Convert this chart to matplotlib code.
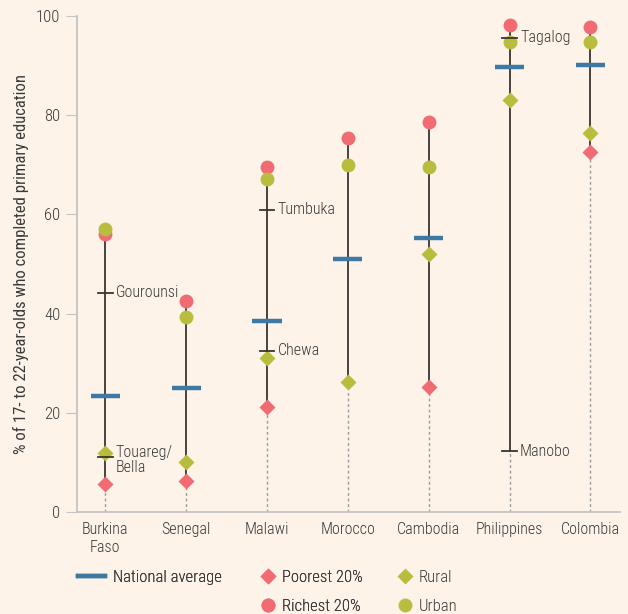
import numpy as np
import matplotlib
matplotlib.use("Agg")
import matplotlib.pyplot as plt
from matplotlib.lines import Line2D

plt.rcParams["font.family"] = ["Roboto Condensed", "Roboto", "DejaVu Sans"]
plt.rcParams["font.weight"] = "light"

# --- data ---
countries = ["Burkina\nFaso", "Senegal", "Malawi", "Morocco", "Cambodia", "Philippines", "Colombia"]
national = [23.4, 25.0, 38.5, 51.0, 55.2, 89.7, 90.1]
poorest = [5.6, 6.2, 21.2, np.nan, 25.2, np.nan, 72.6]
richest = [56.0, 42.5, 69.6, 75.4, 78.6, 98.2, 97.8]
rural = [11.9, 10.1, 31.0, 26.2, 52.0, 83.1, 76.4]
urban = [57.0, 39.3, 67.1, 70.0, 69.6, 94.8, 94.8]

# ethnic groups: (country index, value, label)
groups_idx = [0, 0, 2, 2, 5, 5]
groups_val = [44.2, 11.1, 60.9, 32.5, 95.6, 12.3]
groups_lab = ["Gourounsi", "Touareg/\nBella", "Tumbuka", "Chewa", "Tagalog", "Manobo"]

bg = "#fdf3e9"
blue = "#3d7aa3"
red = "#f06b72"
green = "#b8bd3e"
txt = "#3a3a3a"

fig = plt.figure(figsize=(6.28, 6.14), dpi=100, facecolor=bg)
ax = fig.add_axes([0.1226, 0.166, 0.864, 0.808], facecolor=bg)

x = np.arange(1, len(countries) + 1)

for i in range(len(countries)):
    vals = [national[i], poorest[i], richest[i], rural[i], urban[i]]
    vals += [v for j, v in zip(groups_idx, groups_val) if j == i]
    vals = [v for v in vals if not np.isnan(v)]
    lo, hi = min(vals), max(vals)
    ax.plot([x[i], x[i]], [0, lo], color="#9a9a9a", lw=1, ls=(0, (2, 2)), zorder=1)
    ax.plot([x[i], x[i]], [lo, hi], color="#3b3533", lw=1.3, zorder=2)

ax.hlines(national, x - 0.18, x + 0.18, color=blue, lw=3.2, zorder=3)
ax.plot(x, poorest, "D", color=red, ms=8.5, mec="none", zorder=5)
ax.plot(x, rural, "D", color=green, ms=8.5, mec="none", zorder=5)
ax.plot(x, richest, "o", color=red, ms=10, mec="none", zorder=5, clip_on=False)
ax.plot(x, urban, "o", color=green, ms=10, mec="none", zorder=5, clip_on=False)

# ethnic group ticks + labels
for j, v, lab in zip(groups_idx, groups_val, groups_lab):
    ax.plot([x[j] - 0.09, x[j] + 0.09], [v, v], color="#3b3533", lw=1.3, zorder=7)
    if "\n" in lab:
        ax.text(x[j] + 0.13, v + 2.5, lab, fontsize=11.5, color=txt, va="top",
                ha="left", zorder=8, linespacing=1.05)
    else:
        ax.text(x[j] + 0.13, v, lab, fontsize=11.5, color=txt, va="center",
                ha="left", zorder=8)

ax.set_xlim(0.65, 7.36)
ax.set_ylim(0, 100)
ax.set_xticks(x)
ax.set_xticklabels(countries, fontsize=11.5, color=txt, linespacing=1.25)
ax.tick_params(axis="x", length=0, pad=7)
ax.set_yticks([0, 20, 40, 60, 80, 100])
ax.tick_params(axis="y", length=8, color="#c4c4c4", labelsize=12, labelcolor=txt, pad=4)
ax.set_ylabel("% of 17- to 22-year-olds who completed primary education", fontsize=12, color=txt, labelpad=5)
for s in ["top", "right"]:
    ax.spines[s].set_visible(False)
for s in ["left", "bottom"]:
    ax.spines[s].set_color("#c4c4c4")
    ax.spines[s].set_linewidth(1.3)

# legend: three separate blocks placed like the original
common = dict(frameon=False, fontsize=12, borderpad=0, borderaxespad=0,
              labelspacing=0.85, loc="upper left", labelcolor=txt)
top = 1 - 570 / 614
leg1 = fig.legend([Line2D([], [], color=blue, lw=3.2)], ["National average"],
                  bbox_to_anchor=(78 / 628, top), handlelength=1.6,
                  handletextpad=0.5, **common)
fig.add_artist(leg1)
leg2 = fig.legend([Line2D([], [], marker="D", color=red, ls="none", ms=8.5, mec="none"),
                   Line2D([], [], marker="o", color=red, ls="none", ms=10, mec="none")],
                  ["Poorest 20%", "Richest 20%"],
                  bbox_to_anchor=(260 / 628, top), handlelength=1.0,
                  handletextpad=0.3, **common)
fig.add_artist(leg2)
fig.legend([Line2D([], [], marker="D", color=green, ls="none", ms=8.5, mec="none"),
            Line2D([], [], marker="o", color=green, ls="none", ms=10, mec="none")],
           ["Rural", "Urban"],
           bbox_to_anchor=(397 / 628, top), handlelength=1.0,
           handletextpad=0.3, **common)

fig.savefig("out.png", dpi=100, facecolor=bg)
